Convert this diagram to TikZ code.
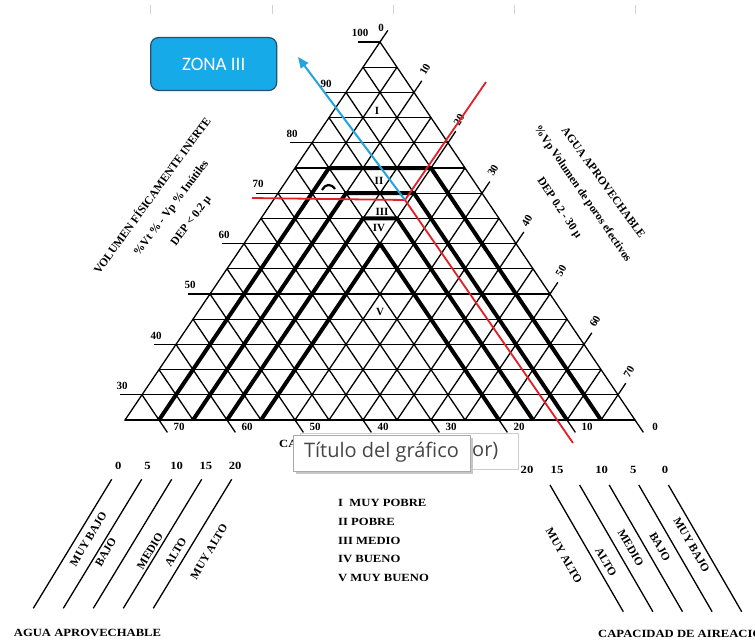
\documentclass[tikz,border=0pt]{standalone}
\usepackage{fontspec}
\setmainfont{Liberation Serif}
\newfontfamily\scanwide[FakeStretch=1.15]{Liberation Serif}
\newfontfamily\uifont{Open Sans}
\newfontfamily\boxfont{Carlito}
\usetikzlibrary{arrows.meta}
\definecolor{redl}{RGB}{228,30,36}
\definecolor{bluel}{RGB}{36,164,220}
\definecolor{boxfill}{RGB}{22,170,232}
\definecolor{boxline}{RGB}{40,78,112}
\definecolor{tipline}{RGB}{170,170,170}
\definecolor{tiptext}{RGB}{70,70,70}
\begin{document}
\begin{tikzpicture}[x=1pt,y=-1pt,
  grid/.style={line width=1.3pt, black},
  zone/.style={line width=4pt, black, line join=round},
  redline/.style={line width=1.8pt, redl},
  lbl/.style={font=\bfseries\fontsize{11}{13}\selectfont, inner sep=0pt},
  ttl/.style={font=\bfseries\fontsize{11.5}{13}\selectfont, inner sep=0pt},
  leg/.style={font=\scanwide\bfseries\fontsize{11}{13}\selectfont, inner sep=0pt},
  legrot/.style={font=\bfseries\fontsize{11.5}{13}\selectfont, inner sep=0pt},
  legline/.style={line width=1.3pt, black}]
\useasboundingbox (0,0) rectangle (755,643);
\fill[white] (0,0) rectangle (755,643);
% faint marks at top
\foreach \mx in {150,272,393,514,635} \draw[black!18, line width=0.8pt] (\mx,5) -- (\mx,14);
% horizontal grid
\foreach \L in {25,30,...,95} {
  \pgfmathsetmacro\gy{42+(100-\L)*5.04}
  \pgfmathsetmacro\gxl{380-(100-\L)*3.4}
  \pgfmathsetmacro\gxr{380+(100-\L)*3.4}
  \draw[grid] (\gxl,\gy) -- (\gxr,\gy);
}
% left ticks and labels
\foreach \L in {30,40,...,100} {
  \pgfmathsetmacro\gy{42+(100-\L)*5.04}
  \pgfmathsetmacro\gxl{380-(100-\L)*3.4}
  \draw[grid] (\gxl-22,\gy) -- (\gxl,\gy);
  \node[lbl] at (\gxl-20,\gy-9) {\L};
}
% constant R lines
\foreach \R in {5,10,...,70} {
  \pgfmathsetmacro\ax{380+\R*3.4}
  \pgfmathsetmacro\ay{42+\R*5.04}
  \pgfmathsetmacro\bx{380+(2*\R-75)*3.4}
  \draw[grid] (\ax,\ay) -- (\bx,420);
}
% constant B lines
\foreach \B in {5,10,...,70} {
  \pgfmathsetmacro\ax{380-\B*3.4}
  \pgfmathsetmacro\ay{42+\B*5.04}
  \pgfmathsetmacro\bx{380+(75-2*\B)*3.4}
  \draw[grid] (\ax,\ay) -- (\bx,420);
}
% edges
\coordinate (apex) at (380,42);
\coordinate (cl) at (125,420);
\coordinate (cr) at (635,420);
\draw[grid] (apex) -- (cl) -- (cr) -- cycle;
% right ticks
\foreach \R in {0,10,...,70} {
  \pgfmathsetmacro\ax{380+\R*3.4}
  \pgfmathsetmacro\ay{42+\R*5.04}
  \draw[grid] (\ax,\ay) -- ++(7.8,-11.6);
}
\foreach \R in {10,20,...,70} {
  \pgfmathsetmacro\ax{380+\R*3.4}
  \pgfmathsetmacro\ay{42+\R*5.04}
  \node[lbl, rotate=60] at (\ax+11,\ay-23) {\R};
}
\node[lbl] at (381,28) {0};
% bottom ticks
\foreach \B in {0,10,...,70} {
  \pgfmathsetmacro\bx{380+(75-2*\B)*3.4}
  \draw[grid] (\bx,420) -- ++(8.4,12.4);
  \node[lbl] at (\bx+20,427) {\B};
}
% zone chevrons
\foreach \k in {5,10,15,20} {
  \pgfmathsetmacro\Lt{80-\k}
  \pgfmathsetmacro\xa{380+(2*\k-75)*3.4}
  \pgfmathsetmacro\xb{380+(2*\k+\Lt-100)*3.4}
  \pgfmathsetmacro\yt{42+(100-\Lt)*5.04}
  \pgfmathsetmacro\xc{380+(\Lt-60)*3.4}
  \pgfmathsetmacro\xd{380+(75-2*\k)*3.4}
  \draw[zone] (\xa,420) -- (\xb,\yt) -- (\xc,\yt) -- (\xd,420);
}
\draw[line width=2.2pt] (322,190) .. controls (325,184) and (331,183) .. (335,189);
% zone labels
\node[lbl] at (377,111) {I};
\node[lbl] at (379,181) {II};
\node[lbl] at (382,212) {III};
\node[lbl] at (379,228) {IV};
\node[lbl] at (380,312) {V};
% red lines
\coordinate (P) at (405,200);
\coordinate (redW) at (252,198);
\coordinate (redNE) at (486,82);
\coordinate (redSE) at (573,443);
\draw[redline] (redW) -- (P);
\draw[redline] (P) -- (redNE);
\draw[redline] (P) -- (redSE);
% zone III box and arrow
\node[draw=boxline, fill=boxfill, rounded corners=8pt, line width=1.2pt,
      minimum width=126pt, minimum height=53pt, text=white,
      font=\boxfont\fontsize{19}{22}\selectfont] (zona) at (213.7,64) {ZONA III};
\coordinate (tip) at (298,57);
\draw[bluel, line width=2pt, -{Triangle[length=11pt,width=9pt]}] (P) -- (tip);
% axis titles
\node[ttl, rotate=54] at (151.5,195) {VOLUMEN FÍSICAMENTE INERTE};
\node[ttl, rotate=53] at (171.5,208.5) {\%Vt \% - Vp \% Inútiles};
\node[ttl, rotate=53] at (191.5,221) {DEP < 0.2 µ};
\node[ttl, rotate=-54] at (603.5,182.5) {AGUA APROVECHABLE};
\node[ttl, rotate=-55.5] at (582.5,194) {\%Vp Volumen de poros efectivos};
\node[ttl, rotate=-56] at (559,208.5) {DEP 0.2 - 30 µ};
\node[leg, anchor=west] at (279,444) {CA};
% legend center
\node[leg, anchor=west] at (338,502.7) {I\ \ MUY POBRE};
\node[leg, anchor=west] at (338,521.7) {II POBRE};
\node[leg, anchor=west] at (338,540.7) {III MEDIO};
\node[leg, anchor=west] at (338,559.3) {IV BUENO};
\node[leg, anchor=west] at (338,578.3) {V MUY BUENO};
% bottom-left legend
\foreach \i/\v in {0/0,1/5,2/10,3/15,4/20} {
  \draw[legline] (111.7+30*\i,479.3) -- (33.3+30*\i,608.3);
  \node[leg] at (118.3+29.2*\i,466) {\v};
}
\node[legrot, rotate=59] at (88.3,539) {MUY BAJO};
\node[legrot, rotate=59] at (105.7,552) {BAJO};
\node[legrot, rotate=59] at (150,551) {MEDIO};
\node[legrot, rotate=59] at (175.7,552) {ALTO};
\node[legrot, rotate=59] at (209,551.7) {MUY ALTO};
\node[leg] at (87.5,632.7) {AGUA APROVECHABLE};
% bottom-right legend
\foreach \i in {0,...,4} {
  \draw[legline] (550+29.6*\i,485) -- (623.3+29.6*\i,611.7);
}
\node[leg] at (527,470) {20};
\node[leg] at (557,470) {15};
\node[leg] at (601.7,470) {10};
\node[leg] at (633.3,470) {5};
\node[leg] at (665,470) {0};
\node[legrot, rotate=-60] at (564,555.7) {MUY ALTO};
\node[legrot, rotate=-60] at (606,562) {ALTO};
\node[legrot, rotate=-60] at (630.7,548) {MEDIO};
\node[legrot, rotate=-60] at (660,546.7) {BAJO};
\node[legrot, rotate=-60] at (691.7,545) {MUY BAJO};
\node[leg, anchor=west] at (598,633.3) {CAPACIDAD DE AIREACIÓN};
% tooltip
\draw[tipline!60, fill=white] (300,433) rectangle (518,469);
\node[anchor=west, font=\uifont\fontsize{20}{24}\selectfont, text=tiptext, inner sep=0pt] (orp) at (472,451) {or)};
\fill[black!22] (296,438) rectangle (473,474);
\draw[tipline, fill=white] (293,435) rectangle (470,471);
\node[font=\uifont\fontsize{20}{24}\selectfont, text=tiptext, inner sep=0pt] (tiptitle) at (381.5,452) {Título del gráfico};
\end{tikzpicture}
\end{document}
